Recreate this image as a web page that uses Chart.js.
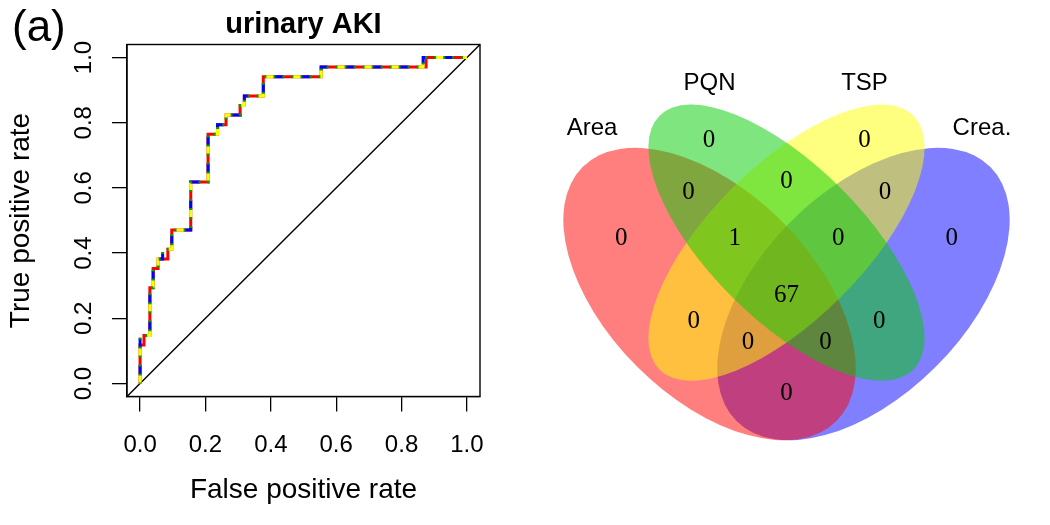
<!DOCTYPE html>
<html>
<head>
<meta charset="utf-8">
<script src="https://cdn.jsdelivr.net/npm/chart.js@4.4.1/dist/chart.umd.min.js"></script>
<style>
    html, body { margin: 0; padding: 0; background: #fff; }
    #wrap { position: relative; width: 1050px; height: 525px; overflow: hidden; }
    #roc { position: absolute; left: 0; top: 0; }
    #venn { position: absolute; left: 530px; top: 22px; }
</style>
</head>
<body>
<div id="wrap">
    <canvas id="roc" width="525" height="525"></canvas>
    <canvas id="venn" width="513" height="503"></canvas>
</div>
<script>
// ---- ROC data ----
const xTicks = [0, 0.2, 0.4, 0.6, 0.8, 1.0];
const yTicks = [0, 0.2, 0.4, 0.6, 0.8, 1.0];
const tickLabels = ['0.0', '0.2', '0.4', '0.6', '0.8', '1.0'];
const plotTitle = 'urinary AKI';
const xTitle = 'False positive rate';
const yTitle = 'True positive rate';
const panelTag = '(a)';

const fprArea = [0, 0, 0.012, 0.012, 0.03, 0.03, 0.04, 0.04, 0.055, 0.055, 0.085, 0.085, 0.097, 0.097, 0.155, 0.155, 0.208, 0.208, 0.237, 0.237, 0.263, 0.263, 0.306, 0.306, 0.319, 0.319, 0.377, 0.377, 0.554, 0.554, 0.875, 0.875, 1];
const tprArea = [0, 0.118, 0.118, 0.147, 0.147, 0.294, 0.294, 0.353, 0.353, 0.382, 0.382, 0.412, 0.412, 0.471, 0.471, 0.618, 0.618, 0.765, 0.765, 0.794, 0.794, 0.824, 0.824, 0.853, 0.853, 0.882, 0.882, 0.941, 0.941, 0.971, 0.971, 1, 1];

const fprOther = [0, 0, 0.03, 0.03, 0.04, 0.04, 0.055, 0.055, 0.069, 0.069, 0.097, 0.097, 0.155, 0.155, 0.208, 0.208, 0.237, 0.237, 0.263, 0.263, 0.306, 0.306, 0.319, 0.319, 0.377, 0.377, 0.554, 0.554, 0.866, 0.866, 1];
const tprOther = [0, 0.147, 0.147, 0.294, 0.294, 0.353, 0.353, 0.382, 0.382, 0.412, 0.412, 0.471, 0.471, 0.618, 0.618, 0.765, 0.765, 0.794, 0.794, 0.824, 0.824, 0.853, 0.853, 0.882, 0.882, 0.941, 0.941, 0.971, 0.971, 1, 1];

const fprPQN = fprOther, tprPQN = tprOther;
const fprTSP = fprOther, tprTSP = tprOther;
const fprCrea = fprOther, tprCrea = tprOther;

const diagX = [-0.04, 1.04];
const diagY = [-0.04, 1.04];

// ---- Venn data ----
const setNames = ['Area', 'PQN', 'TSP', 'Crea.'];
const regionNames = ['Area', 'PQN', 'TSP', 'Crea', 'Area&PQN', 'PQN&TSP', 'TSP&Crea', 'Area&PQN&TSP',
    'PQN&TSP&Crea', 'Area&TSP', 'All', 'Area&TSP&Crea', 'Area&PQN&Crea', 'PQN&Crea', 'Area&Crea'];
const regionCounts = [0, 0, 0, 0, 0, 0, 0, 1, 0, 0, 67, 0, 0, 0, 0];

// ---- Venn layout (unit square of the diagram) ----
const regionPos = [[0.178, 0.578], [0.349, 0.769], [0.652, 0.769], [0.822, 0.578], [0.309, 0.668],
    [0.5, 0.69], [0.692, 0.668], [0.399, 0.578], [0.601, 0.578], [0.319, 0.416], [0.5, 0.467],
    [0.425, 0.376], [0.576, 0.376], [0.681, 0.416], [0.5, 0.277]];
const setLabelPos = [[0.121, 0.792], [0.35, 0.88], [0.652, 0.88], [0.881, 0.792]];
const vennEllipses = [
    { cx: 0.35, cy: 0.47, a: 0.35, b: 0.2, rot: 45 },
    { cx: 0.5, cy: 0.57, a: 0.35, b: 0.15, rot: 45 },
    { cx: 0.5, cy: 0.57, a: 0.35, b: 0.15, rot: -45 },
    { cx: 0.65, cy: 0.47, a: 0.35, b: 0.2, rot: -45 }
];
const setColors = ['rgba(255,0,0,0.5)', 'rgba(0,205,0,0.5)', 'rgba(255,255,0,0.5)', 'rgba(0,0,255,0.5)'];
const drawOrder = [3, 0, 2, 1];

var sansFont = '"Liberation Sans", Arial, Helvetica, sans-serif';
var serifFont = '"Liberation Serif", "Times New Roman", serif';

function toPoints(xs, ys) {
    return xs.map(function (x, i) { return { x: x, y: ys[i] }; });
}

function fixedTicks(values) {
    return function (scale) {
        scale.ticks = values.map(function (v) { return { value: v }; });
    };
}

var rocText = {
    id: 'rocText',
    afterDraw: function (chart) {
        var ctx = chart.ctx;
        var area = chart.chartArea;
        var xs = chart.scales.x, ys = chart.scales.y;
        ctx.save();
        ctx.strokeStyle = '#000';
        ctx.lineWidth = 1.4;
        ctx.strokeRect(area.left, area.top, area.right - area.left, area.bottom - area.top);

        ctx.fillStyle = '#000';
        ctx.font = '24px ' + sansFont;
        ctx.textAlign = 'center';
        ctx.textBaseline = 'middle';
        xTicks.forEach(function (v, i) {
            ctx.fillText(tickLabels[i], xs.getPixelForValue(v), 445);
        });
        yTicks.forEach(function (v, i) {
            ctx.save();
            ctx.translate(84, ys.getPixelForValue(v));
            ctx.rotate(-Math.PI / 2);
            ctx.fillText(tickLabels[i], 0, 0);
            ctx.restore();
        });

        ctx.font = '28px ' + sansFont;
        ctx.textBaseline = 'alphabetic';
        ctx.fillText(xTitle, (area.left + area.right) / 2, 498);
        ctx.save();
        ctx.translate(29, (area.top + area.bottom) / 2);
        ctx.rotate(-Math.PI / 2);
        ctx.fillText(yTitle, 0, 0);
        ctx.restore();

        ctx.font = 'bold 29px ' + sansFont;
        ctx.fillText(plotTitle, (area.left + area.right) / 2, 33);

        ctx.textAlign = 'left';
        ctx.font = '44px ' + sansFont;
        ctx.fillText(panelTag, 12, 41);
        ctx.restore();
    }
};

var vennDraw = {
    id: 'vennDraw',
    beforeDatasetsDraw: function (chart) {
        var ctx = chart.ctx;
        var xs = chart.scales.x, ys = chart.scales.y;
        var unit = xs.getPixelForValue(1) - xs.getPixelForValue(0);
        ctx.save();
        drawOrder.forEach(function (i) {
            var e = vennEllipses[i];
            ctx.beginPath();
            ctx.ellipse(xs.getPixelForValue(e.cx), ys.getPixelForValue(e.cy), e.a * unit, e.b * unit,
                e.rot * Math.PI / 180, 0, 2 * Math.PI);
            ctx.fillStyle = setColors[i];
            ctx.fill();
        });
        ctx.restore();
    },
    afterDatasetsDraw: function (chart) {
        var ctx = chart.ctx;
        ctx.save();
        ctx.fillStyle = '#000';
        ctx.textAlign = 'center';
        ctx.textBaseline = 'middle';
        chart.data.datasets.forEach(function (ds, di) {
            var meta = chart.getDatasetMeta(di);
            ctx.font = ds.labelFont;
            meta.data.forEach(function (pt, j) {
                ctx.fillText(ds.data[j].text, pt.x, pt.y);
            });
        });
        ctx.restore();
    }
};

function drawRoc() {
    var axisCommon = {
        type: 'linear',
        min: -0.04,
        max: 1.04,
        grid: { drawOnChartArea: false, drawTicks: true, tickLength: 15, color: '#000', lineWidth: 1.3 },
        border: { display: true, color: '#000', width: 1.3 },
        ticks: { display: false }
    };
    new Chart(document.getElementById('roc'), {
        type: 'line',
        data: {
            datasets: [
                { label: 'PQN', data: toPoints(fprPQN, tprPQN), borderColor: '#00a000', borderWidth: 3, borderDash: [2, 7], borderDashOffset: 1 },
                { label: 'Crea.', data: toPoints(fprCrea, tprCrea), borderColor: '#0000ff', borderWidth: 3, borderDash: [9, 18], borderDashOffset: 18 },
                { label: 'TSP', data: toPoints(fprTSP, tprTSP), borderColor: '#ffff00', borderWidth: 3, borderDash: [9, 18] },
                { label: 'Area', data: toPoints(fprArea, tprArea), borderColor: '#ff0000', borderWidth: 3 },
                { label: 'diag', data: toPoints(diagX, diagY), borderColor: '#000', borderWidth: 1.4 }
            ]
        },
        options: {
            responsive: false,
            animation: false,
            layout: { padding: { top: 44.5, right: 45, left: 0, bottom: 0 } },
            plugins: { legend: { display: false }, tooltip: { enabled: false } },
            elements: { point: { radius: 0 }, line: { tension: 0, borderCapStyle: 'butt' } },
            scales: {
                x: Object.assign({}, axisCommon, {
                    afterBuildTicks: fixedTicks(xTicks),
                    afterFit: function (s) { s.height = 128.5; }
                }),
                y: Object.assign({}, axisCommon, {
                    afterBuildTicks: fixedTicks(yTicks),
                    afterFit: function (s) { s.width = 127; }
                })
            }
        },
        plugins: [rocText]
    });
}

function drawVenn() {
    var countPoints = regionCounts.map(function (c, i) {
        return { x: regionPos[i][0], y: regionPos[i][1], text: String(c), region: regionNames[i] };
    });
    var namePoints = setNames.map(function (n, i) {
        return { x: setLabelPos[i][0], y: setLabelPos[i][1], text: n };
    });
    new Chart(document.getElementById('venn'), {
        type: 'scatter',
        data: {
            datasets: [
                { label: 'counts', data: countPoints, pointRadius: 0, labelFont: '25px ' + serifFont },
                { label: 'sets', data: namePoints, pointRadius: 0, labelFont: '24px ' + sansFont }
            ]
        },
        options: {
            responsive: false,
            animation: false,
            layout: { padding: 0 },
            plugins: { legend: { display: false }, tooltip: { enabled: false } },
            scales: {
                x: { type: 'linear', min: 0, max: 1, display: false },
                y: { type: 'linear', min: 0.02, max: 1.0, display: false }
            }
        },
        plugins: [vennDraw]
    });
}

document.addEventListener('DOMContentLoaded', function () {
    drawRoc();
    drawVenn();
});
</script>
</body>
</html>
